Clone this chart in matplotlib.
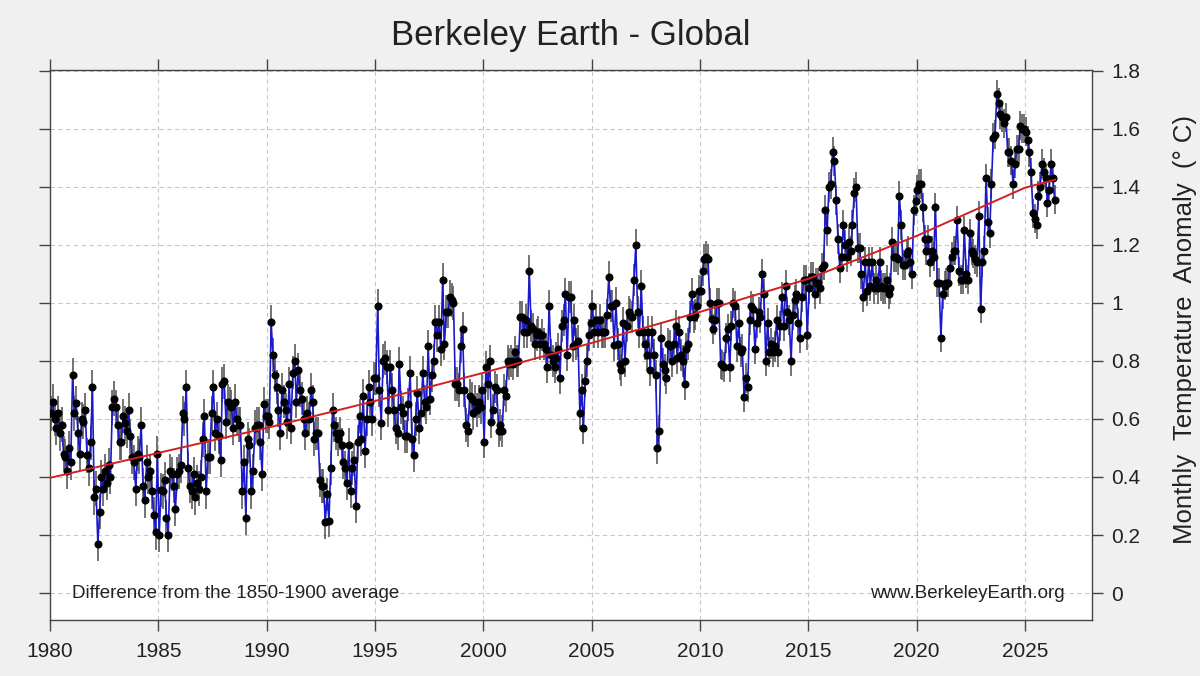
#!/usr/bin/env python3

import matplotlib.pyplot as plt
import matplotlib
import numpy as np

plt.rcParams['font.family'] = ['Liberation Sans', 'DejaVu Sans']

# monthly anomalies (deg C vs 1850-1900), one row per year
anom_1980s = [
    [0.62, 0.66, 0.60, 0.57, 0.62, 0.55, 0.58, 0.48, 0.47, 0.42, 0.50, 0.45],
    [0.75, 0.62, 0.655, 0.55, 0.48, 0.60, 0.59, 0.63, 0.475, 0.43, 0.52, 0.71],
    [0.33, 0.36, 0.17, 0.28, 0.40, 0.36, 0.42, 0.38, 0.44, 0.40, 0.64, 0.67],
    [0.64, 0.58, 0.52, 0.52, 0.61, 0.585, 0.56, 0.63, 0.54, 0.47, 0.45, 0.36],
    [0.48, 0.47, 0.58, 0.37, 0.32, 0.45, 0.40, 0.42, 0.35, 0.27, 0.21, 0.48],
    [0.20, 0.355, 0.35, 0.39, 0.26, 0.20, 0.42, 0.41, 0.37, 0.29, 0.41, 0.42],
    [0.44, 0.62, 0.60, 0.71, 0.43, 0.37, 0.35, 0.41, 0.33, 0.38, 0.36, 0.40],
    [0.53, 0.61, 0.35, 0.47, 0.47, 0.62, 0.71, 0.55, 0.60, 0.54, 0.46, 0.72],
    [0.73, 0.59, 0.66, 0.65, 0.64, 0.57, 0.66, 0.60, 0.58, 0.58, 0.35, 0.45],
    [0.26, 0.53, 0.51, 0.35, 0.42, 0.57, 0.58, 0.58, 0.52, 0.41, 0.65, 0.61],
]
anom_1990s = [
    [0.61, 0.59, 0.935, 0.82, 0.75, 0.71, 0.63, 0.55, 0.70, 0.66, 0.63, 0.59],
    [0.72, 0.57, 0.76, 0.80, 0.66, 0.77, 0.70, 0.67, 0.60, 0.55, 0.62, 0.60],
    [0.70, 0.66, 0.53, 0.55, 0.55, 0.39, 0.37, 0.37, 0.245, 0.34, 0.25, 0.43],
    [0.63, 0.58, 0.55, 0.53, 0.55, 0.51, 0.45, 0.43, 0.38, 0.51, 0.35, 0.43],
    [0.46, 0.30, 0.52, 0.61, 0.53, 0.68, 0.49, 0.60, 0.71, 0.66, 0.60, 0.74],
    [0.74, 0.99, 0.70, 0.585, 0.80, 0.81, 0.78, 0.63, 0.78, 0.70, 0.63, 0.57],
    [0.55, 0.79, 0.64, 0.62, 0.54, 0.54, 0.65, 0.76, 0.53, 0.475, 0.60, 0.69],
    [0.57, 0.62, 0.76, 0.66, 0.64, 0.85, 0.67, 0.75, 0.80, 0.935, 0.89, 0.935],
    [0.84, 1.08, 0.86, 0.97, 0.97, 1.02, 1.01, 1.00, 0.72, 0.72, 0.70, 0.85],
    [0.91, 0.70, 0.58, 0.56, 0.68, 0.67, 0.62, 0.66, 0.63, 0.66, 0.64, 0.70],
]
anom_2000s = [
    [0.52, 0.78, 0.72, 0.80, 0.59, 0.63, 0.71, 0.70, 0.56, 0.58, 0.56, 0.70],
    [0.68, 0.80, 0.79, 0.80, 0.79, 0.83, 0.80, 0.80, 0.95, 0.95, 0.90, 0.94],
    [0.90, 1.11, 0.92, 0.91, 0.86, 0.89, 0.90, 0.86, 0.89, 0.86, 0.84, 0.78],
    [0.99, 0.82, 0.80, 0.78, 0.81, 0.84, 0.74, 0.92, 0.94, 1.03, 0.82, 1.02],
    [1.02, 0.85, 0.94, 0.86, 0.87, 0.62, 0.70, 0.57, 0.73, 0.80, 0.89, 0.93],
    [0.99, 0.90, 0.94, 0.90, 0.94, 0.90, 0.90, 0.90, 0.96, 1.09, 0.99, 0.99],
    [0.855, 1.00, 0.86, 0.79, 0.77, 0.93, 0.80, 0.92, 0.97, 0.96, 0.95, 1.08],
    [1.20, 0.97, 0.90, 1.06, 0.90, 0.86, 0.82, 0.90, 0.77, 0.90, 0.82, 0.75],
    [0.50, 0.56, 0.88, 0.79, 0.77, 0.74, 0.86, 0.85, 0.80, 0.86, 0.92, 0.81],
    [0.90, 0.82, 0.80, 0.72, 0.84, 0.86, 0.95, 1.03, 0.95, 0.96, 0.99, 1.04],
]
anom_2010s = [
    [1.04, 1.11, 1.15, 1.16, 1.15, 1.00, 0.945, 0.91, 0.94, 1.00, 1.00, 0.79],
    [0.785, 0.78, 0.88, 0.91, 0.78, 0.92, 1.00, 0.99, 0.85, 0.93, 0.83, 0.84],
    [0.675, 0.74, 0.71, 0.94, 0.99, 0.98, 0.84, 0.93, 0.97, 0.95, 1.10, 1.03],
    [0.80, 0.93, 0.83, 0.86, 0.83, 0.85, 0.94, 0.83, 0.92, 1.02, 0.92, 1.06],
    [0.97, 0.94, 0.80, 0.96, 1.01, 1.03, 0.93, 0.88, 1.02, 1.08, 1.08, 0.89],
    [1.05, 1.09, 1.09, 1.03, 1.07, 1.07, 1.05, 1.12, 1.13, 1.32, 1.25, 1.40],
    [1.41, 1.52, 1.49, 1.355, 1.22, 1.12, 1.16, 1.27, 1.20, 1.16, 1.21, 1.18],
    [1.27, 1.38, 1.40, 1.19, 1.19, 1.10, 1.02, 1.14, 1.04, 1.14, 1.06, 1.14],
    [1.05, 1.08, 1.05, 1.14, 1.06, 1.05, 1.05, 1.08, 1.03, 1.05, 1.21, 1.16],
    [1.16, 1.15, 1.37, 1.27, 1.13, 1.13, 1.17, 1.18, 1.14, 1.10, 1.32, 1.35],
]
anom_2020s = [
    [1.39, 1.41, 1.41, 1.33, 1.22, 1.18, 1.22, 1.14, 1.18, 1.16, 1.33, 1.07],
    [1.07, 0.88, 1.03, 1.06, 1.07, 1.07, 1.12, 1.16, 1.18, 1.18, 1.285, 1.11],
    [1.08, 1.08, 1.25, 1.10, 1.08, 1.24, 1.18, 1.17, 1.15, 1.14, 1.30, 0.98],
    [1.14, 1.18, 1.43, 1.28, 1.24, 1.41, 1.57, 1.58, 1.72, 1.69, 1.65, 1.64],
    [1.62, 1.64, 1.52, 1.52, 1.49, 1.41, 1.48, 1.53, 1.53, 1.61, 1.60, 1.60],
    [1.59, 1.56, 1.52, 1.45, 1.31, 1.29, 1.27, 1.37, 1.40, 1.48, 1.45, 1.43],
    [1.345, 1.39, 1.48, 1.43, 1.355],
]
# 95% uncertainty half-width per decade
decade_starts = [1980, 1990, 2000, 2010, 2020]
decade_unc = [0.060, 0.058, 0.055, 0.052, 0.050]

# smoothed trend (red line), read at a few dates
trend_years = [1980, 1985, 1990, 1995, 2000, 2005, 2010, 2015, 2020, 2025, 2026.4]
trend_vals = [0.397, 0.483, 0.569, 0.662, 0.759, 0.862, 0.969, 1.083, 1.231, 1.397, 1.425]

x_ticks = list(range(1980, 2030, 5))
y_ticks = [0, 0.2, 0.4, 0.6, 0.8, 1.0, 1.2, 1.4, 1.6, 1.8]


def build_series():
    t, v, e = [], [], []
    for start, unc, rows in zip(decade_starts, decade_unc,
                                [anom_1980s, anom_1990s, anom_2000s, anom_2010s, anom_2020s]):
        for i, row in enumerate(rows):
            for m, val in enumerate(row):
                t.append(start + i + (m + 0.5) / 12)
                v.append(val)
                e.append(unc)
    return np.array(t), np.array(v), np.array(e)


def plot_global():
    t, v, e = build_series()

    fig = plt.figure(figsize=(12, 6.76), dpi=100, facecolor='#f0f0f0')
    ax = fig.add_axes([50 / 1200, 1 - 620 / 676, 1042 / 1200, 550 / 676])
    ax.set_facecolor('white')

    ax.vlines(t, v - e, v + e, color='#5a5a5a', linewidth=1.2, zorder=2)
    ax.plot(t, v, color='#1a1acc', linewidth=1.2, zorder=3)
    ax.plot(t, v, 'o', color='black', markersize=4.8, zorder=4)
    ax.plot(trend_years, trend_vals, color='#d42020', linewidth=1.4, zorder=5)

    ax.set_xlim(1980, 2028.1)
    ax.set_ylim(-0.093, 1.803)
    ax.set_xticks(x_ticks)
    ax.set_yticks(y_ticks)
    ax.set_yticklabels([f"{y:g}" for y in y_ticks])
    ax.tick_params(direction='out', length=8, width=1, color='#444444',
                   labelsize=15, labelcolor='#222222',
                   top=True, right=True, left=True, bottom=True,
                   labelleft=False, labelright=True, labeltop=False)
    ax.tick_params(axis='x', pad=8)
    ax.tick_params(axis='y', pad=6)
    for s in ax.spines.values():
        s.set_color('#444444')
        s.set_linewidth(1.0)

    ax.set_axisbelow(True)
    ax.grid(True, linestyle=(0, (4, 3)), color='#c8c8c8', linewidth=0.8)

    fig.text(1185 / 1200, 1 - 330 / 676, "Monthly  Temperature  Anomaly  (° C)",
             fontsize=18.5, color='#222222', rotation=90,
             ha='center', va='center')

    ax.set_title("Berkeley Earth - Global", fontsize=25, color='#222222', pad=18)

    ax.text(1981.0, 0.0, "Difference from the 1850-1900 average",
            fontsize=13.5, color='#222222', va='center', ha='left')
    ax.text(2026.85, 0.0, "www.BerkeleyEarth.org",
            fontsize=13.5, color='#222222', va='center', ha='right')

    plt.savefig('out.png', dpi=100, facecolor=fig.get_facecolor())
    plt.close(fig)


if __name__ == "__main__":
    plot_global()
